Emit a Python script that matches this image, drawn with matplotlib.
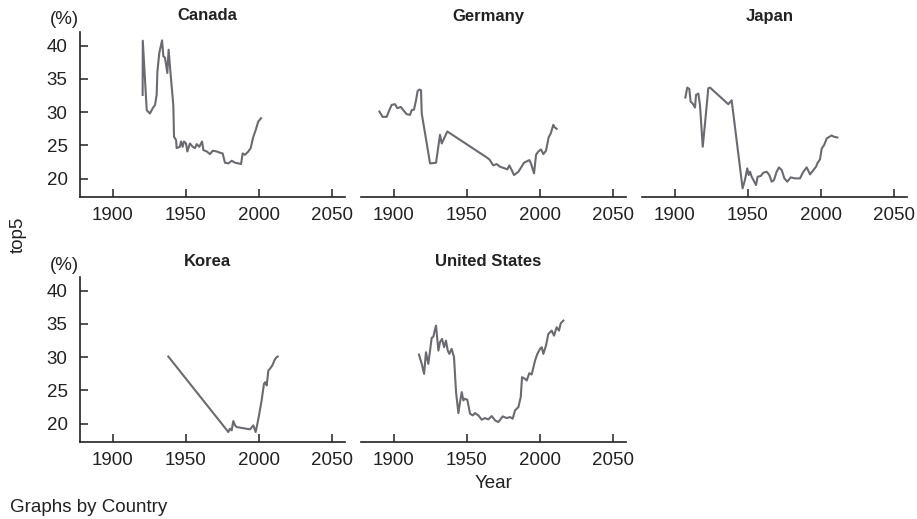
import matplotlib
matplotlib.use("Agg")
import matplotlib.pyplot as plt

plt.rcParams['font.family'] = ['Liberation Sans', 'DejaVu Sans']

# ---------------- data ----------------
canada_year = [1920.5, 1920.6, 1923.3, 1925.5, 1927.4, 1929, 1930.1, 1930.6, 1931.9, 1933.8,
               1934.7, 1935.8, 1937.4, 1938.3, 1939.7, 1941.5, 1942, 1943.4, 1943.8, 1946,
               1946.8, 1947.9, 1948.8, 1950.2, 1951.1, 1952.9, 1954.8, 1956.4, 1957.5, 1959.3,
               1961.2, 1962.1, 1964.4, 1966.6, 1968.5, 1971.2, 1973.5, 1975.3, 1976.9, 1979.2,
               1981.5, 1983.8, 1986.1, 1987.9, 1989, 1990.6, 1992.9, 1994.5, 1996.3, 1997.9,
               1999.7, 2001.6]
canada_top5 = [32.6, 40.75, 30.3, 29.8, 30.6, 31.1, 32.6, 36.1, 38.9, 40.8,
               38.4, 38.2, 35.9, 39.4, 35.6, 31.1, 26.3, 25.8, 24.6, 24.8,
               25.6, 24.8, 25.6, 25.3, 24.1, 25.3, 24.8, 24.6, 25.2, 24.8,
               25.6, 24.3, 24.1, 23.7, 24.2, 24.1, 23.9, 23.8, 22.4, 22.3,
               22.7, 22.4, 22.3, 22.2, 23.8, 23.6, 24.1, 24.6, 26.3, 27.3,
               28.6, 29.1]

germany_year = [1890.2, 1892.4, 1895.2, 1897, 1898.6, 1900.9, 1902.5, 1904.8, 1906.6, 1908.9,
                1911.2, 1912.3, 1913.9, 1915.3, 1916.4, 1917.6, 1918.7, 1919.2, 1924.9, 1929,
                1931.7, 1932.9, 1936.7, 1963.7, 1965.5, 1968.2, 1970.5, 1972.8, 1975.5, 1977.8,
                1979.2, 1980.8, 1982.4, 1985.4, 1987, 1989.2, 1992.9, 1994, 1996.1, 1997.5,
                1999.1, 2000.9, 2002.5, 2004.3, 2006.1, 2007.7, 2009.3, 2010, 2011.6]
germany_top5 = [30.1, 29.3, 29.3, 30.3, 31.1, 31.2, 30.6, 30.8, 30.3, 29.7,
                29.6, 30.3, 30.4, 31.8, 33.2, 33.4, 33.3, 29.8, 22.3, 22.4,
                26.6, 25.3, 27.1, 23.2, 22.9, 22.0, 22.2, 21.8, 21.6, 21.4,
                22.0, 21.3, 20.55, 21.05, 21.6, 22.4, 22.8, 22.3, 20.8, 23.6,
                24.1, 24.4, 23.7, 24.2, 26.2, 26.9, 28.1, 27.8, 27.5]

japan_year = [1907.3, 1908.6, 1910, 1910.9, 1912.3, 1913.9, 1914.6, 1916.2, 1917.3, 1919.2,
              1921.4, 1923, 1924.2, 1936.7, 1939, 1946.5, 1948.1, 1949.7, 1950.7, 1951.6,
              1952.7, 1954.5, 1955.7, 1956.8, 1958.9, 1960.7, 1963, 1964.8, 1966.4, 1968,
              1969.8, 1971.4, 1973.3, 1975.1, 1977.1, 1979.4, 1982.4, 1985.8, 1988.1, 1990.4,
              1992.7, 1995, 1996.8, 1997.9, 1999.5, 2000.7, 2002.3, 2004.1, 2005.9, 2007.5,
              2009.1, 2011.4]
japan_top5 = [32.2, 33.7, 33.5, 31.6, 31.3, 30.7, 32.6, 32.8, 31.1, 24.8,
              29.8, 33.6, 33.7, 31.2, 31.8, 18.55, 19.8, 21.55, 20.55, 21.05,
              20.3, 19.55, 19.05, 20.3, 20.4, 20.9, 21.05, 20.55, 19.55, 19.8,
              21.05, 21.7, 21.3, 20.05, 19.55, 20.2, 20.05, 20.05, 21.05, 21.7,
              20.65, 21.3, 21.8, 22.4, 22.9, 24.55, 25.05, 26.05, 26.3, 26.5,
              26.3, 26.2]

korea_year = [1938.1, 1979.2, 1980.3, 1981.5, 1982.6, 1983.8, 1984.9, 1994, 1996.3, 1997.9,
              1999.1, 2000.4, 2002, 2003.6, 2004.5, 2005.5, 2006.6, 2007.7, 2009.3, 2010.7,
              2011.8, 2013]
korea_top5 = [30.1, 18.75, 19.25, 19.0, 20.4, 19.75, 19.5, 19.15, 19.75, 18.75,
              20.0, 21.5, 23.5, 26.0, 26.25, 25.75, 28.0, 28.25, 28.75, 29.5,
              29.9, 30.1]

us_year = [1917.3, 1919.2, 1920.8, 1922.1, 1923.7, 1924.9, 1926, 1927.2, 1927.8, 1929,
           1930.6, 1931.7, 1933.1, 1934.5, 1935.8, 1937, 1938.1, 1939.7, 1941.3, 1942.7,
           1944.3, 1945.4, 1946.6, 1947.7, 1948.8, 1950.4, 1952.3, 1954.1, 1955.7, 1958,
           1960.3, 1962.5, 1964.8, 1967.1, 1969.4, 1971.7, 1974.6, 1977.4, 1979.7, 1981.5,
           1983.1, 1985.4, 1987, 1987.9, 1989.9, 1991.1, 1992.9, 1994.5, 1996.8, 1998.4,
           2000.2, 2001.4, 2002.5, 2004.3, 2005.9, 2008.2, 2009.8, 2011.6, 2013.2, 2014.4,
           2016.2]
us_top5 = [30.4, 29.0, 27.5, 30.75, 29.0, 31.0, 32.9, 33.1, 33.75, 34.75,
           31.0, 32.25, 32.75, 31.5, 32.5, 31.0, 30.5, 31.25, 30.0, 24.75,
           21.6, 23.25, 24.75, 23.5, 23.75, 23.6, 21.5, 21.25, 21.6, 21.25,
           20.6, 20.85, 20.65, 21.15, 20.5, 20.25, 21.1, 20.85, 21.0, 20.75,
           22.0, 22.5, 24.0, 27.0, 26.75, 26.5, 27.6, 27.4, 29.5, 30.5,
           31.25, 31.5, 30.5, 31.75, 33.5, 34.0, 33.25, 34.5, 34.0, 35.1,
           35.5]

countries = ["Canada", "Germany", "Japan", "Korea", "United States"]
series = [(canada_year, canada_top5), (germany_year, germany_top5), (japan_year, japan_top5),
          (korea_year, korea_top5), (us_year, us_top5)]

x_ticks = [1900, 1950, 2000, 2050]
y_ticks = [20, 25, 30, 35, 40]

# ---------------- layout ----------------
W, H = 917, 519
fig = plt.figure(figsize=(W / 100, H / 100), dpi=100)

col_left = [80, 361, 642]
ax_w = 265
ax_h = 165
row_top = [32, 277]  # pixel y of axes top

line_color = '#6a6a70'
text_color = '#222222'
tick_fs = 13.5

for i, (name, (xs, ys)) in enumerate(zip(countries, series)):
    r, c = divmod(i, 3)
    left = col_left[c]
    top = row_top[r]
    ax = fig.add_axes([left / W, (H - top - ax_h) / H, ax_w / W, ax_h / H])
    ax.plot(xs, ys, color=line_color, lw=1.5, solid_joinstyle='round')
    ax.set_xlim(1877.6, 2059.1)
    ax.set_ylim(17.25, 42.06)
    for s in ['top', 'right']:
        ax.spines[s].set_visible(False)
    ax.spines['bottom'].set_linewidth(1.2)
    ax.spines['bottom'].set_color(text_color)
    ax.set_xticks(x_ticks)
    ax.tick_params(axis='x', direction='in', length=6, width=1.1, color=text_color,
                   labelsize=tick_fs, labelcolor=text_color, pad=7)
    if c == 0:
        ax.spines['left'].set_linewidth(1.2)
        ax.spines['left'].set_color(text_color)
        ax.set_yticks(y_ticks)
        ax.tick_params(axis='y', direction='in', length=6, width=1.1, color=text_color,
                       labelsize=tick_fs, labelcolor=text_color, pad=9)
        fig.text(64 / W, 1 - (20 + 245 * r) / H, '(%)', ha='center', va='center',
                 fontsize=tick_fs, color=text_color)
    else:
        ax.spines['left'].set_visible(False)
        ax.set_yticks([])
    ax.text(0.5 - 5 / ax_w, 1 + 16 / ax_h, name, transform=ax.transAxes,
            ha='center', va='center', fontsize=12, fontweight='bold', color=text_color)

fig.text(18 / W, 1 - 235 / H, 'top5', rotation=90, ha='center', va='center',
         fontsize=tick_fs, color=text_color)
fig.text(493.5 / W, 1 - 483 / H, 'Year', ha='center', va='center',
         fontsize=tick_fs, color=text_color)
fig.text(10 / W, 1 - 508 / H, 'Graphs by Country', ha='left', va='center',
         fontsize=tick_fs, color=text_color)

fig.savefig('out.png', dpi=100, facecolor='white')
